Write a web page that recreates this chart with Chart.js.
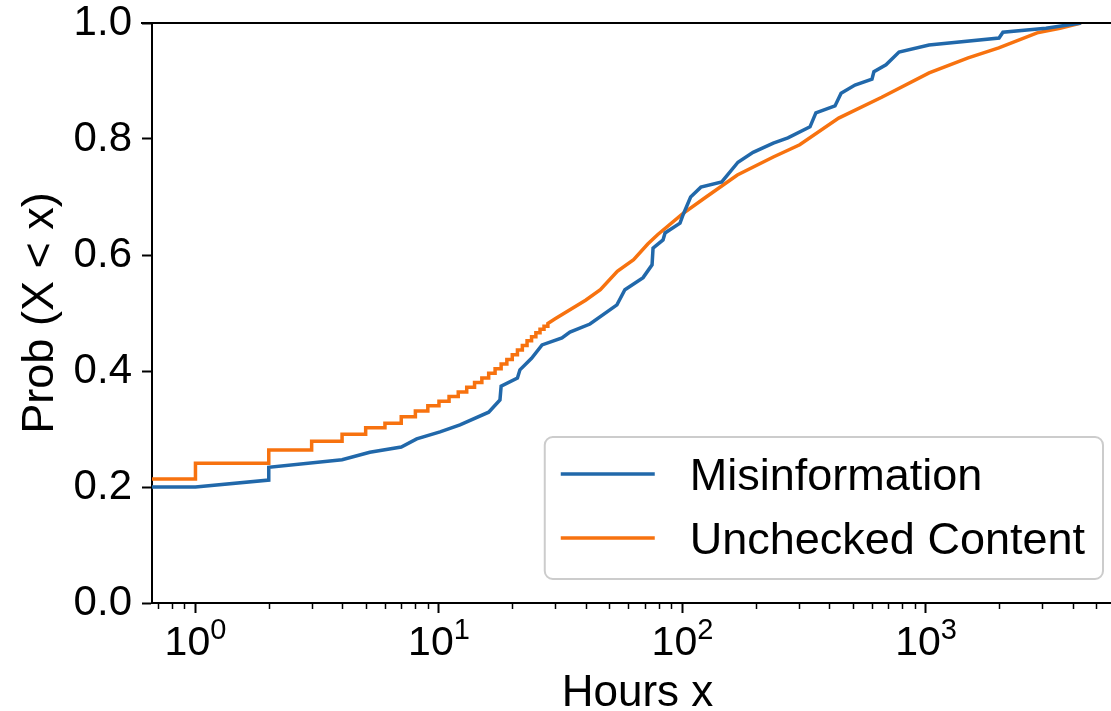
<!DOCTYPE html>
<html>
<head>
<meta charset="utf-8">
<script src="https://cdn.jsdelivr.net/npm/chart.js@4.4.1/dist/chart.umd.min.js"></script>
<style>
  html, body { margin: 0; padding: 0; background: #fff; overflow: hidden; width: 1111px; height: 711px; }
  #wrap { width: 1140px; height: 711px; }
</style>
</head>
<body>
<div id="wrap"><canvas id="cdfChart" width="1140" height="711"></canvas></div>
<script>
// CDF of hours (x=0.5 stands in for the 0-hour values, which sit left of the axis)
const missHours = [0.5, 1, 2, 2, 4, 5.2, 7, 8.1, 10.1, 12.2, 16, 17.8, 18, 21, 21.5, 24, 26.5, 32, 34.5, 41.7,
  53.8, 58, 68.9, 75, 75.7, 83.2, 84.8, 97.7, 100.5, 108, 119, 145, 169, 195, 236, 271, 334, 353, 423, 448,
  511, 600, 611, 685, 775, 1029, 1995, 2070, 3110, 4330];
const missProb = [0.200, 0.200, 0.212, 0.234, 0.247, 0.260, 0.269, 0.283, 0.295, 0.307, 0.329, 0.350, 0.374, 0.388, 0.402, 0.422, 0.445, 0.457, 0.467, 0.481,
  0.514, 0.540, 0.561, 0.583, 0.612, 0.626, 0.638, 0.655, 0.669, 0.700, 0.717, 0.726, 0.760, 0.777, 0.793, 0.802, 0.821, 0.845, 0.857, 0.879,
  0.893, 0.903, 0.916, 0.928, 0.950, 0.962, 0.974, 0.984, 0.991, 1.000];

const unchHours = [0.5, 1, 1, 2, 2, 3, 3, 4, 4, 5, 5, 6, 6, 7, 7, 8, 8, 9, 9, 10, 10,
  11, 11, 12, 12, 13, 13, 14, 14, 15, 15, 16, 16, 17, 17, 18, 18, 19, 19, 20, 20,
  21, 21, 22, 22, 23, 23, 24, 24, 25, 25, 26, 26, 27, 27, 28, 28,
  30, 40, 46, 54, 63, 72, 79, 100, 125, 168, 236, 303, 438, 658, 1030, 1490, 1990, 2860, 3550, 4330];
const unchProb = [0.214, 0.214, 0.241, 0.241, 0.264, 0.264, 0.279, 0.279, 0.291, 0.291, 0.302, 0.302, 0.310, 0.310, 0.321, 0.321, 0.331, 0.331, 0.340, 0.340, 0.348,
  0.348, 0.356, 0.356, 0.364, 0.364, 0.372, 0.372, 0.380, 0.380, 0.388, 0.388, 0.396, 0.396, 0.404, 0.404, 0.412, 0.412, 0.420, 0.420, 0.428,
  0.428, 0.436, 0.436, 0.444, 0.444, 0.452, 0.452, 0.459, 0.459, 0.466, 0.466, 0.472, 0.472, 0.477, 0.477, 0.482,
  0.490, 0.522, 0.540, 0.572, 0.592, 0.619, 0.635, 0.671, 0.700, 0.738, 0.769, 0.790, 0.836, 0.872, 0.914, 0.940, 0.957, 0.983, 0.991, 1.000];

const seriesNames = ['Misinformation', 'Unchecked Content'];
const seriesColors = ['#2168aa', '#f7720f'];
const majorTicks = [1, 10, 100, 1000];
const yTicks = [0, 0.2, 0.4, 0.6, 0.8, 1.0];

const FONT = "'Liberation Sans', Arial, Helvetica, sans-serif";

// minor ticks at 2..9 x 10^k, like matplotlib
const xTickValues = [];
for (let e = -1; e <= 3; e++) {
  for (let m = 1; m <= 9; m++) {
    xTickValues.push(Math.round(m * Math.pow(10, e) * 1000) / 1000);
  }
}

const toPoints = (xs, ys) => xs.map((x, i) => ({ x: x, y: ys[i] }));

const axisExtras = {
  id: 'axisExtras',
  afterDraw(chart) {
    const { ctx, chartArea } = chart;
    const xs = chart.scales.x;
    ctx.save();
    // top spine
    ctx.strokeStyle = '#000';
    ctx.lineWidth = 2;
    ctx.beginPath();
    ctx.moveTo(chartArea.left - 11, chartArea.top);
    ctx.lineTo(chartArea.right, chartArea.top);
    ctx.stroke();
    // minor ticks
    ctx.lineWidth = 1.5;
    xs.ticks.forEach(t => {
      if (t.major) return;
      const px = Math.round(xs.getPixelForValue(t.value)) + 0.5;
      if (px < chartArea.left || px > chartArea.right) return;
      ctx.beginPath();
      ctx.moveTo(px, chartArea.bottom);
      ctx.lineTo(px, chartArea.bottom + 6);
      ctx.stroke();
    });
    // major labels as 10^k
    ctx.fillStyle = '#000';
    ctx.textBaseline = 'alphabetic';
    majorTicks.forEach(v => {
      const px = xs.getPixelForValue(v);
      const base = '10';
      const exp = String(Math.round(Math.log10(v)));
      ctx.font = '41px ' + FONT;
      const wb = ctx.measureText(base).width;
      ctx.font = '29px ' + FONT;
      const we = ctx.measureText(exp).width;
      const x0 = px - (wb + we) / 2;
      ctx.font = '41px ' + FONT;
      ctx.textAlign = 'left';
      ctx.fillText(base, x0, chartArea.bottom + 52);
      ctx.font = '29px ' + FONT;
      ctx.fillText(exp, x0 + wb, chartArea.bottom + 36);
    });
    ctx.restore();
  }
};

const legendBox = {
  id: 'legendBox',
  afterDatasetsDraw(chart) {
    const { ctx, chartArea } = chart;
    ctx.save();
    ctx.font = '45px ' + FONT;
    const names = chart.data.datasets.map(d => d.label);
    const textW = Math.max(...names.map(n => ctx.measureText(n).width));
    const w = 145 + textW + 18;
    const h = 142;
    const x0 = chartArea.right - 20 - w;
    const y0 = chartArea.bottom - 24 - h;
    ctx.beginPath();
    ctx.roundRect(x0, y0, w, h, 8);
    ctx.fillStyle = 'rgba(255,255,255,0.8)';
    ctx.fill();
    ctx.strokeStyle = '#cccccc';
    ctx.lineWidth = 2;
    ctx.stroke();
    chart.data.datasets.forEach((d, i) => {
      const cy = y0 + 37 + i * 64;
      ctx.strokeStyle = d.borderColor;
      ctx.lineWidth = 3.5;
      ctx.beginPath();
      ctx.moveTo(x0 + 16, cy);
      ctx.lineTo(x0 + 110, cy);
      ctx.stroke();
      ctx.fillStyle = '#000';
      ctx.textAlign = 'left';
      ctx.textBaseline = 'alphabetic';
      ctx.fillText(d.label, x0 + 145, cy + 16);
    });
    ctx.restore();
  }
};

const ctx = document.getElementById('cdfChart').getContext('2d');
const chart = new Chart(ctx, {
  type: 'line',
  data: {
    datasets: [
      {
        label: seriesNames[0],
        data: toPoints(missHours, missProb),
        borderColor: seriesColors[0],
        borderWidth: 3.5,
        pointRadius: 0,
        fill: false,
        tension: 0
      },
      {
        label: seriesNames[1],
        data: toPoints(unchHours, unchProb),
        borderColor: seriesColors[1],
        borderWidth: 3.5,
        pointRadius: 0,
        fill: false,
        tension: 0
      }
    ]
  },
  options: {
    responsive: false,
    animation: false,
    devicePixelRatio: 1,
    layout: { padding: { top: 23, right: 17, left: 0, bottom: 0 } },
    plugins: {
      legend: { display: false },
      tooltip: { enabled: false }
    },
    scales: {
      x: {
        type: 'logarithmic',
        min: 0.663,
        max: 6442,
        afterBuildTicks: (scale) => {
          scale.ticks = xTickValues.map(v => ({ value: v, major: majorTicks.includes(v) }));
        },
        afterFit: (scale) => {
          scale.height = 108;
          scale.paddingLeft = 0;
          scale.paddingRight = 0;
        },
        ticks: {
          autoSkip: false,
          maxRotation: 0,
          callback: () => ''
        },
        grid: {
          drawOnChartArea: false,
          drawTicks: true,
          tickLength: 10,
          tickWidth: 2,
          tickColor: (c) => (c.tick && c.tick.major ? '#000' : 'rgba(0,0,0,0)')
        },
        border: { display: true, color: '#000', width: 2 },
        title: {
          display: true,
          text: 'Hours x',
          color: '#000',
          font: { family: FONT, size: 44, lineHeight: 0.77 },
          padding: { top: 0, bottom: 0 }
        }
      },
      y: {
        type: 'linear',
        min: 0,
        max: 1,
        afterBuildTicks: (scale) => {
          scale.ticks = yTicks.map(v => ({ value: v }));
        },
        afterFit: (scale) => {
          scale.width = 152;
          scale.paddingTop = 0;
          scale.paddingBottom = 0;
        },
        ticks: {
          color: '#000',
          padding: 10,
          font: { family: FONT, size: 42, lineHeight: 1.0 },
          callback: (v) => Number(v).toFixed(1)
        },
        grid: {
          drawOnChartArea: false,
          drawTicks: true,
          tickLength: 10,
          tickWidth: 2,
          tickColor: '#000'
        },
        border: { display: true, color: '#000', width: 2 },
        title: {
          display: true,
          text: 'Prob (X < x)',
          color: '#000',
          font: { family: FONT, size: 45, lineHeight: 1.2 },
          padding: { top: 14, bottom: 0 }
        }
      }
    }
  },
  plugins: [axisExtras, legendBox]
});
</script>
</body>
</html>
